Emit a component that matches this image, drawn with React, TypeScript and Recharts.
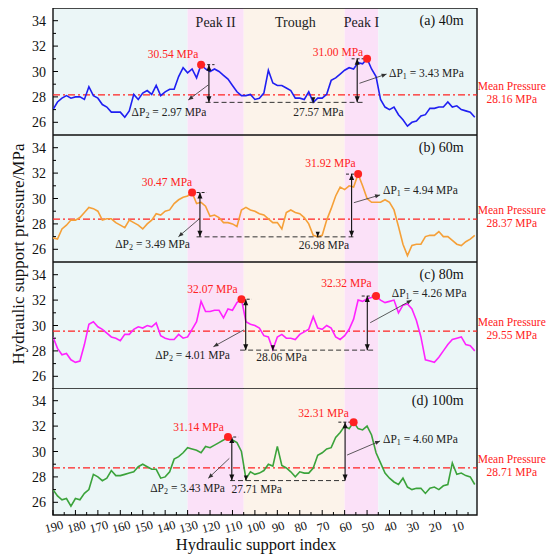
import React from 'react';
import { LineChart, Line, XAxis, YAxis, ReferenceArea, ReferenceLine, ReferenceDot } from 'recharts';

// hydraulic support index (x), every second support
const supportIndex = [
  190, 188, 186, 184, 182, 180, 178, 176, 174, 172,
  170, 168, 166, 164, 162, 160, 158, 156, 154, 152,
  150, 148, 146, 144, 142, 140, 138, 136, 134, 132,
  130, 128, 126, 124, 122, 120, 118, 116, 114, 112,
  110, 108, 106, 104, 102, 100, 98, 96, 94, 92,
  90, 88, 86, 84, 82, 80, 78, 76, 74, 72,
  70, 68, 66, 64, 62, 60, 58, 56, 54, 52,
  50, 48, 46, 44, 42, 40, 38, 36, 34, 32,
  30, 28, 26, 24, 22, 20, 18, 16, 14, 12,
  10, 8, 6, 4, 2,
];

const pressure40 = [
  27.0, 27.6, 27.9, 28.1, 27.9, 28.0, 28.0, 27.8, 28.8, 28.1,
  27.9, 27.4, 27.2, 26.8, 26.8, 26.8, 26.4, 26.9, 28.2, 27.8,
  28.3, 28.5, 28.2, 28.9, 28.1, 28.4, 28.6, 28.6, 29.6, 30.3,
  29.9, 30.2, 29.5, 30.54, 30.2, 30.0, 30.2, 30.0, 29.7, 29.4,
  28.9, 28.4, 28.1, 28.1, 28.2, 27.8, 27.9, 28.3, 30.1, 29.1,
  28.9, 28.9, 28.7, 28.5, 27.9, 27.9, 27.8, 28.4, 27.57, 27.9,
  27.9, 28.2, 29.3, 29.5, 29.8, 30.1, 30.3, 30.2, 30.7, 30.6,
  31.0, 30.2, 29.6, 27.8, 27.2, 27.0, 27.2, 26.6, 26.2, 25.7,
  26.0, 26.1, 26.5, 26.6, 27.1, 27.1, 27.2, 27.2, 27.6, 27.2,
  27.3, 27.0, 26.9, 26.8, 26.4,
];

const pressure60 = [
  26.9, 26.8, 27.6, 27.9, 28.3, 28.3, 28.5, 28.9, 29.3, 29.2,
  29.0, 28.3, 28.4, 28.4, 28.1, 27.9, 27.7, 28.3, 28.1, 27.9,
  27.6, 28.0, 28.3, 28.8, 28.7, 29.0, 29.1, 29.6, 29.9, 30.1,
  30.2, 30.47, 29.6, 29.7, 29.4, 28.6, 28.7, 28.5, 28.1, 28.1,
  28.0, 27.8, 29.1, 29.3, 29.1, 29.0, 28.8, 28.7, 28.4, 28.1,
  28.1, 27.6, 28.9, 29.1, 28.9, 28.8, 28.5, 28.0, 27.1, 26.98,
  27.1, 28.3, 29.2, 30.2, 30.9, 30.7, 31.0, 30.9, 31.92, 31.0,
  30.0, 29.7, 29.7, 29.7, 29.9, 29.7, 29.1, 27.8, 26.4, 25.5,
  26.3, 26.4, 26.4, 27.0, 27.1, 27.1, 27.4, 27.0, 27.0, 26.7,
  26.4, 26.3, 26.6, 26.8, 27.1,
];

const pressure80 = [
  29.1, 28.2, 27.7, 27.8, 27.3, 27.1, 27.2, 28.5, 30.1, 30.3,
  29.9, 29.7, 29.4, 29.1, 29.0, 28.8, 29.3, 29.3, 29.7, 29.9,
  29.8, 30.0, 29.9, 30.2, 29.2, 29.0, 28.9, 28.9, 29.3, 29.0,
  29.1, 29.7, 30.3, 31.9, 31.1, 31.1, 31.2, 31.2, 30.6, 31.3,
  31.2, 31.8, 32.07, 30.3, 30.1, 30.0, 29.8, 29.2, 29.1, 28.1,
  29.1, 29.3, 29.0, 29.0, 28.9, 29.3, 29.5, 29.7, 30.7, 29.8,
  29.7, 30.0, 29.8, 29.1, 28.9, 29.2, 29.7, 30.5, 32.0, 31.9,
  32.1, 32.2, 32.32, 32.0, 31.8, 31.9, 32.0, 31.0, 31.6, 31.7,
  31.3, 30.4, 29.1, 27.3, 27.2, 27.1, 27.5, 28.0, 28.5, 28.9,
  29.0, 29.1, 28.5, 28.4, 28.0,
];

const pressure100 = [
  27.0, 26.5, 26.2, 26.3, 25.7, 26.3, 26.2, 26.7, 27.0, 28.2,
  28.0, 27.7, 27.9, 28.5, 28.1, 28.1, 28.2, 28.3, 28.4, 28.8,
  29.0, 28.8, 28.6, 28.6, 27.9, 28.0, 28.4, 29.4, 29.6, 29.9,
  30.3, 30.2, 30.1, 29.9, 30.4, 30.3, 30.5, 30.7, 30.9, 31.14,
  30.9, 30.7, 30.0, 27.85, 28.4, 28.2, 28.3, 28.5, 29.0, 28.85,
  30.4, 28.9, 28.7, 28.4, 28.0, 28.4, 28.3, 28.3, 28.7, 29.7,
  29.9, 30.2, 30.3, 31.1, 31.5, 32.0, 31.8, 32.31, 31.8, 31.7,
  32.0, 31.3, 29.9, 29.1, 28.3, 27.9, 27.6, 27.4, 27.9, 27.2,
  27.0, 27.1, 27.1, 26.7, 27.1, 27.2, 27.0, 27.3, 27.4, 29.1,
  28.2, 28.3, 28.1, 28.0, 27.4,
];

const panelNames = ['(a) 40m', '(b) 60m', '(c) 80m', '(d) 100m'];
const meanPressure = [28.16, 28.37, 29.55, 28.71];
const peakIIValue = [30.54, 30.47, 32.07, 31.14];
const peakIIAt = [124, 128, 106, 112];
const peakIValue = [31.0, 31.92, 32.32, 32.31];
const peakIAt = [50, 54, 46, 56];
const troughValue = [27.57, 26.98, 28.06, 27.71];
const troughAt = [74, 72, 92, 104];
const deltaII = [2.97, 3.49, 4.01, 3.43];
const deltaI = [3.43, 4.94, 4.26, 4.6];

const xTicks = [190, 185, 180, 175, 170, 165, 160, 155, 150, 145, 140, 135, 130, 125, 120, 115, 110, 105, 100,
  95, 90, 85, 80, 75, 70, 65, 60, 55, 50, 45, 40, 35, 30, 25, 20, 15, 10, 5];
const yTicks = [26, 27, 28, 29, 30, 31, 32, 33, 34];

const zones = [
  { from: 190, to: 130, fill: '#EBF6F7', name: '' },
  { from: 130, to: 105, fill: '#FBE1F8', name: 'Peak II' },
  { from: 105, to: 60, fill: '#FCF3EA', name: 'Trough' },
  { from: 60, to: 45, fill: '#FBE1F8', name: 'Peak I' },
  { from: 45, to: 1, fill: '#EBF6F7', name: '' },
];
const zoneLabelAt = [0, 117.5, 82, 52.5, 0];

const panelColors = ['#1F1FF2', '#F5A038', '#FF22FF', '#3BA33B'];
const panelSeries = [pressure40, pressure60, pressure80, pressure100];

// annotation placement (support index, MPa)
const marks = [
  {
    peakIILabel: [136.5, 31.06], peakILabel: [63.0, 31.22],
    arrowII: 120.5, arrowI: 54.4, capII: [123.5, 118], capI: [56.9, 51], base: [122, 51],
    leaderII: [[120.8, 28.94], [129.7, 27.76]], leaderI: [[53.4, 29.07], [41.3, 29.8]],
    dpIILabel: [138.3, 26.5], dpILabel: [40.2, 29.57], troughLabel: [71.7, 26.5],
  },
  {
    peakIILabel: [139.2, 30.98], peakILabel: [66.3, 32.5],
    arrowII: 124.5, arrowI: 56.9, capII: [126, 121.5], capI: [59.4, 54.4], base: [126, 56.1],
    leaderII: [[124.5, 28.44], [134.1, 26.99]], leaderI: [[55.9, 29.67], [44.2, 30.28]],
    dpIILabel: [145.6, 26.08], dpILabel: [42.9, 30.35], troughLabel: [69.2, 26.0],
  },
  {
    peakIILabel: [118.9, 32.58], peakILabel: [59.2, 33.0],
    arrowII: 104.1, arrowI: 49.9, capII: [105.9, 101.4], capI: [52.4, 47.2], base: [106.6, 46.5],
    leaderII: [[105.0, 29.65], [118.5, 28.33]], leaderI: [[48.6, 30.22], [30.1, 32.0]],
    dpIILabel: [127.8, 27.34], dpILabel: [39.0, 32.27], troughLabel: [88.1, 27.2],
  },
  {
    peakIILabel: [125.1, 31.64], peakILabel: [69.4, 32.74],
    arrowII: 110.3, arrowI: 59.8, capII: [111.9, 107.4], capI: [62.8, 57.6], base: [111.1, 59.8],
    leaderII: [[111.4, 29.46], [120.8, 27.89]], leaderI: [[58.9, 29.72], [44.2, 30.83]],
    dpIILabel: [130.0, 26.83], dpILabel: [42.9, 30.69], troughLabel: [99.2, 26.73],
  },
];

const FONT = '"Liberation Serif", "Times New Roman", serif';
const PANEL_H = 127;
const panelTops = [8, 135, 262, 388];
const RED = '#FF2222';

const makeArrow = (color: string, width: number, startHead: boolean, endHead: boolean, size = 6) => (p: any) => {
  const { x1, y1, x2, y2 } = p;
  const ang = Math.atan2(y2 - y1, x2 - x1);
  const head = (x: number, y: number, a: number) => {
    const w = size * 0.42;
    const bx = x - size * Math.cos(a);
    const by = y - size * Math.sin(a);
    return `${x},${y} ${bx + w * Math.sin(a)},${by - w * Math.cos(a)} ${bx - w * Math.sin(a)},${by + w * Math.cos(a)}`;
  };
  return (
    <g>
      <line x1={x1} y1={y1} x2={x2} y2={y2} stroke={color} strokeWidth={width} />
      {endHead && <polygon points={head(x2, y2, ang)} fill={color} />}
      {startHead && <polygon points={head(x1, y1, ang + Math.PI)} fill={color} />}
    </g>
  );
};

const textShape = (content: React.ReactNode, opts: { size: number; fill: string; anchor?: string }) => (p: any) => (
  <text x={p.cx} y={p.cy} textAnchor={opts.anchor || 'middle'} fontSize={opts.size} fontFamily={FONT} fill={opts.fill}>
    {content}
  </text>
);

const deltaText = (sub: string, v: number) => (
  <>
    ΔP<tspan fontSize={8} dy={2}>{sub}</tspan>
    <tspan dy={-2}>{` = ${v.toFixed(2)} MPa`}</tspan>
  </>
);

const XTick = (p: any) => {
  const { x, y, payload, showLabel } = p;
  const major = payload.value % 10 === 0;
  return (
    <g>
      <line x1={x} x2={x} y1={y} y2={y - (major ? 5 : 3)} stroke="#000" strokeWidth={1} />
      {showLabel && major && (
        <text
          transform={`translate(${x + 1},${y + 12}) rotate(-15)`}
          textAnchor="middle"
          dominantBaseline="central"
          fontSize={12.5}
          fontFamily={FONT}
          fill="#111"
        >
          {payload.value}
        </text>
      )}
    </g>
  );
};

const LeftTick = (p: any) => {
  const { x, y, payload } = p;
  const major = payload.value % 2 === 0;
  return (
    <g>
      <line x1={x} x2={x + (major ? 5 : 3)} y1={y} y2={y} stroke="#000" strokeWidth={1} />
      {major && (
        <text x={x - 7} y={y} dy="0.36em" textAnchor="end" fontSize={14} fontFamily={FONT} fill="#111">
          {payload.value}
        </text>
      )}
    </g>
  );
};

const RightTick = (p: any) => {
  const { x, y, payload } = p;
  const major = payload.value % 2 === 0;
  return <line x1={x} x2={x - (major ? 5 : 3)} y1={y} y2={y} stroke="#000" strokeWidth={1} />;
};

function Panel({ i }: { i: number }) {
  const last = i === 3;
  const h = last ? PANEL_H + 44 : PANEL_H;
  const m = marks[i];
  const data = supportIndex.map((idx, k) => ({ idx, p: panelSeries[i][k] }));
  const yid = 'l';
  return (
    <div style={{ position: 'absolute', left: 0, top: panelTops[i], width: 550, height: h }}>
      <LineChart width={550} height={h} data={data} margin={{ top: 0, right: 73, bottom: 0, left: 0 }}>
        <XAxis
          dataKey="idx"
          type="number"
          domain={[1, 190]}
          reversed
          allowDataOverflow
          ticks={xTicks}
          interval={0}
          height={last ? 44 : 0}
          tickSize={0}
          tickMargin={0}
          axisLine={false}
          tickLine={false}
          tick={(p: any) => <XTick {...p} showLabel={last} />}
        />
        <YAxis
          yAxisId={yid}
          type="number"
          domain={[25, 35]}
          allowDataOverflow
          ticks={yTicks}
          interval={0}
          width={53}
          tickSize={0}
          tickMargin={0}
          axisLine={false}
          tickLine={false}
          tick={LeftTick}
        />
        <YAxis
          yAxisId="r"
          orientation="right"
          type="number"
          domain={[25, 35]}
          allowDataOverflow
          ticks={yTicks}
          interval={0}
          width={0}
          tickSize={0}
          tickMargin={0}
          axisLine={false}
          tickLine={false}
          tick={RightTick}
        />
        {zones.map((z, k) => (
          <ReferenceArea key={`z${k}`} yAxisId={yid} x1={z.from} x2={z.to} y1={25} y2={35} fill={z.fill} fillOpacity={1} stroke="none" />
        ))}
        {i === 0 &&
          zones.map((z, k) =>
            z.name ? (
              <ReferenceDot key={`zl${k}`} yAxisId={yid} x={zoneLabelAt[k]} y={33.5} shape={textShape(z.name, { size: 14, fill: '#222' })} />
            ) : null
          )}
        <ReferenceLine yAxisId={yid} y={meanPressure[i]} stroke={RED} strokeWidth={1.2} strokeDasharray="7 3 2 3" />
        <Line yAxisId={yid} dataKey="p" type="linear" stroke={panelColors[i]} strokeWidth={1.6} dot={false} isAnimationActive={false} />

        {/* Peak II */}
        <ReferenceLine yAxisId={yid} segment={[{ x: m.capII[0], y: peakIIValue[i] }, { x: m.capII[1], y: peakIIValue[i] }]} stroke="#222" strokeWidth={1} strokeDasharray="3 2" />
        <ReferenceLine yAxisId={yid} segment={[{ x: m.base[0], y: troughValue[i] }, { x: m.base[1], y: troughValue[i] }]} stroke="#333" strokeWidth={1} strokeDasharray="5 3" />
        <ReferenceLine yAxisId={yid} segment={[{ x: m.arrowII, y: peakIIValue[i] }, { x: m.arrowII, y: troughValue[i] }]} shape={makeArrow('#111', 1.1, true, true)} />
        <ReferenceLine yAxisId={yid} segment={[{ x: m.leaderII[0][0], y: m.leaderII[0][1] }, { x: m.leaderII[1][0], y: m.leaderII[1][1] }]} shape={makeArrow('#333', 0.8, false, true, 5)} />
        <ReferenceDot yAxisId={yid} x={peakIIAt[i]} y={peakIIValue[i]} r={4} fill={RED} stroke="none" />
        <ReferenceDot yAxisId={yid} x={m.peakIILabel[0]} y={m.peakIILabel[1]} shape={textShape(`${peakIIValue[i].toFixed(2)} MPa`, { size: 11.5, fill: RED })} />
        <ReferenceDot yAxisId={yid} x={m.dpIILabel[0]} y={m.dpIILabel[1]} shape={textShape(deltaText('2', deltaII[i]), { size: 11.5, fill: '#222' })} />

        {/* Peak I */}
        <ReferenceLine yAxisId={yid} segment={[{ x: m.capI[0], y: peakIValue[i] }, { x: m.capI[1], y: peakIValue[i] }]} stroke="#222" strokeWidth={1} strokeDasharray="3 2" />
        <ReferenceLine yAxisId={yid} segment={[{ x: m.arrowI, y: peakIValue[i] }, { x: m.arrowI, y: troughValue[i] }]} shape={makeArrow('#111', 1.1, true, true)} />
        <ReferenceLine yAxisId={yid} segment={[{ x: m.leaderI[0][0], y: m.leaderI[0][1] }, { x: m.leaderI[1][0], y: m.leaderI[1][1] }]} shape={makeArrow('#333', 0.8, false, true, 5)} />
        <ReferenceDot yAxisId={yid} x={peakIAt[i]} y={peakIValue[i]} r={4} fill={RED} stroke="none" />
        <ReferenceDot yAxisId={yid} x={m.peakILabel[0]} y={m.peakILabel[1]} shape={textShape(`${peakIValue[i].toFixed(2)} MPa`, { size: 11.5, fill: RED })} />
        <ReferenceDot yAxisId={yid} x={m.dpILabel[0]} y={m.dpILabel[1]} shape={textShape(deltaText('1', deltaI[i]), { size: 11.5, fill: '#222', anchor: 'start' })} />

        {/* trough */}
        <ReferenceLine yAxisId={yid} segment={[{ x: troughAt[i], y: troughValue[i] + 0.35 }, { x: troughAt[i], y: troughValue[i] }]} shape={makeArrow('#111', 1, false, true, 5)} />
        <ReferenceDot yAxisId={yid} x={m.troughLabel[0]} y={m.troughLabel[1]} shape={textShape(`${troughValue[i].toFixed(2)} MPa`, { size: 11.5, fill: '#222' })} />

        <ReferenceDot yAxisId={yid} x={7} y={33.65} shape={textShape(panelNames[i], { size: 14, fill: '#111', anchor: 'end' })} />

        {/* mean pressure note, right of the frame */}
        <ReferenceDot
          yAxisId={yid}
          x={-14.5}
          y={meanPressure[i]}
          ifOverflow="visible"
          shape={(p: any) => (
            <text x={p.cx} y={p.cy} textAnchor="middle" fontSize={11.5} fontFamily={FONT} fill={RED}>
              <tspan x={p.cx} dy={-5}>Mean Pressure</tspan>
              <tspan x={p.cx} dy={13}>{`${meanPressure[i].toFixed(2)} MPa`}</tspan>
            </text>
          )}
        />

        <ReferenceArea yAxisId={yid} x1={190} x2={1} y1={25} y2={35} fill="none" stroke="#111" strokeWidth={1.4} />
      </LineChart>
    </div>
  );
}

export default function App() {
  return (
    <div style={{ position: 'absolute', left: 0, top: 0, width: 550, height: 559, background: '#fff', fontFamily: FONT }}>
      {[0, 1, 2, 3].map((i) => (
        <Panel key={i} i={i} />
      ))}
      <svg width={550} height={559} style={{ position: 'absolute', left: 0, top: 0, pointerEvents: 'none' }}>
        <text
          transform="translate(18,254) rotate(-90)"
          textAnchor="middle"
          dominantBaseline="central"
          fontSize={17}
          fontFamily={FONT}
          fill="#111"
        >
          Hydraulic support pressure/MPa
        </text>
        <text x={256} y={550} textAnchor="middle" fontSize={16.5} fontFamily={FONT} fill="#111">
          Hydraulic support index
        </text>
      </svg>
    </div>
  );
}
